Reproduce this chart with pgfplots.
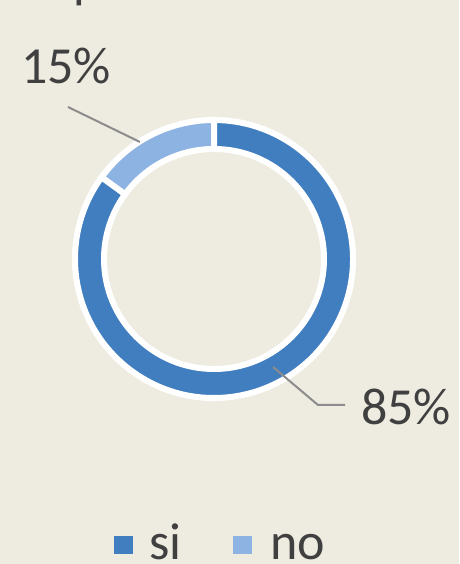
\documentclass[border=0pt]{standalone}
\usepackage{pgfplots}
\pgfplotsset{compat=1.18}
\usepackage{pgfplotstable}
\usepackage{fontspec}
\setmainfont{Carlito}
\definecolor{bg}{RGB}{238,235,224}
\definecolor{siblue}{RGB}{65,126,192}
\definecolor{noblue}{RGB}{141,179,226}
\definecolor{txt}{RGB}{64,64,64}
\definecolor{lead}{RGB}{140,140,140}
\pgfplotstableread{
label value
si 85
no 15
}\donut
\newcommand{\bigfont}{\fontsize{52pt}{62pt}\selectfont}
\begin{document}
\begin{tikzpicture}
\pgfplotstablegetelem{0}{value}\of\donut \pgfmathsetmacro\vsi{\pgfplotsretval}
\pgfplotstablegetelem{1}{value}\of\donut \pgfmathsetmacro\vno{\pgfplotsretval}
\pgfmathsetmacro\aone{90+3.6*\vno}
\pgfmathsetmacro\atwo{\aone+3.6*\vsi}
\clip (0,0) rectangle (459pt,564pt);
\fill[bg] (0,0) rectangle (459pt,564pt);
\begin{axis}[at={(0,0)}, anchor=south west, scale only axis,
  width=459pt, height=564pt, xmin=0, xmax=459, ymin=0, ymax=564,
  hide axis, clip=false]
% ring slices
\filldraw[fill=noblue, draw=white, line width=6pt]
  (axis cs:214,305) ++(90:139pt) arc[start angle=90, end angle=\aone, radius=139pt]
  -- ([shift={(\aone:110pt)}]axis cs:214,305)
  arc[start angle=\aone, end angle=90, radius=110pt] -- cycle;
\filldraw[fill=siblue, draw=white, line width=6pt]
  ([shift={(\aone:139pt)}]axis cs:214,305) arc[start angle=\aone, end angle=\atwo, radius=139pt]
  -- ([shift={(\atwo:110pt)}]axis cs:214,305)
  arc[start angle=\atwo, end angle=\aone, radius=110pt] -- cycle;
% leader lines
\draw[lead, line width=2pt] (axis cs:68,457) -- (axis cs:140,422);
\draw[lead, line width=2pt] (axis cs:273,197) -- (axis cs:318,159) -- (axis cs:345,159);
% data labels
\node[anchor=base west, inner sep=0pt, text=txt, font=\bigfont] at (axis cs:21,480) {15\%};
\node[anchor=base west, inner sep=0pt, text=txt, font=\bigfont] at (axis cs:361,139) {85\%};
% cut-off title
\node[anchor=base west, inner sep=0pt, text=txt, font=\bigfont] at (axis cs:73,566) {p};
% legend
\fill[siblue] (axis cs:114,10) rectangle (axis cs:133,28);
\node[anchor=base west, inner sep=0pt, text=txt, font=\bigfont] at (axis cs:149,5) {si};
\fill[noblue] (axis cs:233,10) rectangle (axis cs:252,28);
\node[anchor=base west, inner sep=0pt, text=txt, font=\bigfont] at (axis cs:270,5) {no};
\end{axis}
\end{tikzpicture}
\end{document}
